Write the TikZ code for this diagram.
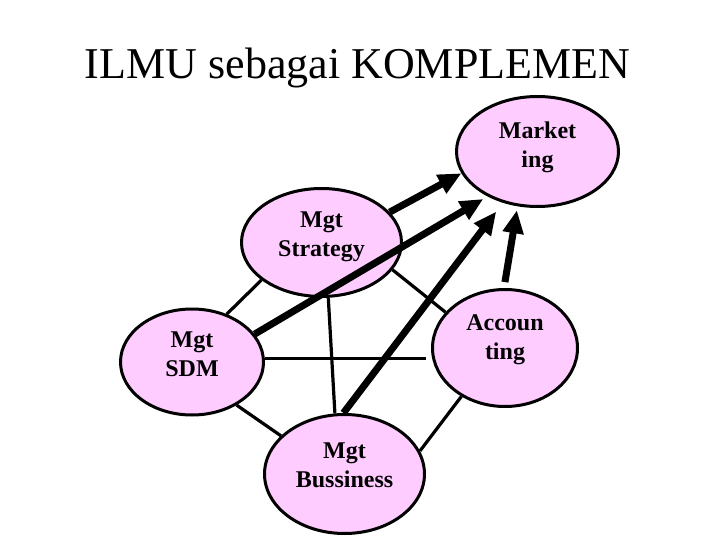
\documentclass[tikz,border=0pt]{standalone}
\usepackage{fontspec}
\setmainfont{Liberation Serif}
\usetikzlibrary{shapes.geometric,arrows.meta}
\definecolor{pinkfill}{RGB}{255,204,255}
\tikzset{
  ell/.style={ellipse, draw=black, line width=3pt, fill=pinkfill, inner sep=0pt},
  lbl/.style={align=center, inner sep=0pt, font=\fontsize{24}{29}\selectfont\bfseries},
  thin/.style={line width=3.2pt},
  thick/.style={line width=7pt, -{Triangle[length=23pt,width=20pt]}},
}
\begin{document}
\begin{tikzpicture}[x=1pt,y=-1pt]
\useasboundingbox (0,0) rectangle (720,540);
\node[font=\fontsize{44}{50}\selectfont, anchor=base] (title) at (357.5,79) {ILMU sebagai KOMPLEMEN};
% ellipses
\node[ell, minimum width=162pt, minimum height=110pt] (mkt) at (537.5,151.5) {};
\node[ell, minimum width=160pt, minimum height=108pt] (strat) at (321.5,242.5) {};
\node[ell, minimum width=143pt, minimum height=106pt] (sdm) at (192,362) {};
\node[ell, minimum width=145pt, minimum height=117pt] (acc) at (505,348) {};
\node[ell, minimum width=160pt, minimum height=119pt] (buss) at (344.5,474) {};
% labels
\node[lbl] (mktl) at (537.5,147) {Market\\ing};
\node[lbl] (stratl) at (321.5,237) {Mgt\\Strategy};
\node[lbl] (sdml) at (192,354) {Mgt\\SDM};
\node[lbl] (accl) at (505,340) {Accoun\\ting};
\node[lbl] (bussl) at (344.5,465) {Mgt\\Bussiness};
% thin connectors
\draw[thin] (strat.212) -- (sdm.54);
\draw[thin] (strat.339.5) -- (acc.149);
\draw[thin] (strat.277) -- (buss.99);
\draw[thin, shorten >=5pt] (sdm.3) -- (sdm.3 -| acc.west);
\draw[thin] (sdm.316) -- (buss.149);
\draw[thin] (buss.17.6) -- (acc.228.7);
% thick arrows
\draw[thick] (strat.24.6) -- (mkt.196.6);
\draw[thick, shorten >=5pt] (sdm.24) -- (mkt.222);
\draw[thick, shorten >=11pt] (buss.91) -- (mkt.236);
\draw[thick, shorten <=6pt, shorten >=4pt] (acc.91) -- (mkt.250);
\end{tikzpicture}
\end{document}
